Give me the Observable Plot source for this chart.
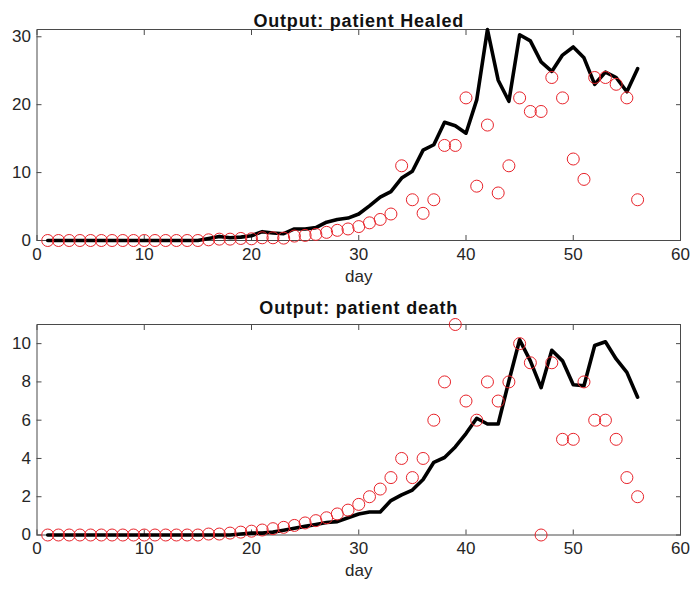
<!DOCTYPE html>
<html>
<head>
<meta charset="utf-8">
<script src="https://cdn.jsdelivr.net/npm/d3@7"></script>
<script src="https://cdn.jsdelivr.net/npm/@observablehq/plot@0.6"></script>
<style>
  body { margin: 0; background: #fff; }
  #chart { width: 700px; }
  #chart svg { display: block; overflow: visible; }
</style>
</head>
<body>
<div id="chart"></div>
<script>
const days = [1,2,3,4,5,6,7,8,9,10,11,12,13,14,15,16,17,18,19,20,21,22,23,24,25,26,27,28,
  29,30,31,32,33,34,35,36,37,38,39,40,41,42,43,44,45,46,47,48,49,50,51,52,53,54,55,56];

const healedObs = [0,0,0,0,0,0,0,0,0,0,0,0,0,0,0,0.1,0.2,0.2,0.3,0.25,0.4,0.4,0.35,0.65,0.75,0.9,1.2,1.5,
  1.7,2.05,2.6,3.1,3.9,11,6,4,6,14,14,21,8,17,7,11,21,19,19,24,21,12,9,24,24,23,21,6];
const healedFit = [0,0,0,0,0,0,0,0,0,0,0,0,0,0,0,0.3,0.6,0.4,0.5,0.7,1.3,1.1,1.0,1.7,1.7,1.9,2.7,3.1,
  3.3,3.9,5.1,6.4,7.2,9.2,10.2,13.3,14.1,17.4,16.9,15.8,20.7,31.07,23.6,20.5,30.3,29.4,26.3,24.9,27.3,28.5,26.9,23.0,24.8,24.0,21.9,25.3];

const deathObs = [0,0,0,0,0,0,0,0,0,0,0,0,0,0,0,0.05,0.05,0.1,0.15,0.2,0.26,0.33,0.4,0.5,0.63,0.75,0.9,1.1,
  1.3,1.6,2,2.4,3,4,3,4,6,8,11,7,6,8,7,8,10,9,0,9,5,5,8,6,6,5,3,2];
const deathFit = [0,0,0,0,0,0,0,0,0,0,0,0,0,0,0,0,0,0,0.05,0.1,0.1,0.15,0.25,0.35,0.45,0.55,0.65,0.7,
  0.9,1.1,1.2,1.2,1.8,2.1,2.35,2.9,3.8,4.05,4.6,5.3,6.1,5.8,5.8,8.05,10.2,9.1,7.7,9.65,9.1,7.85,7.8,9.9,10.1,9.2,8.5,7.2];

const xTicks = [0,10,20,30,40,50,60];
const yTicksHealed = [0,10,20,30];
const yTicksDeath = [0,2,4,6,8,10];
const titles = ["Output: patient Healed", "Output: patient death"];
const xLabel = "day";

const font = "'Liberation Sans', Arial, Helvetica, sans-serif";
const ink = "#262626";

function panel({obs, fit, yDomain, yTicks, title, height, marginTop, marginBottom, titleDy}) {
  const rows = days.map((d, i) => ({day: d, obs: obs[i], fit: fit[i]}));
  const svg = Plot.plot({
    width: 700,
    height,
    marginLeft: 36.5,
    marginRight: 20,
    marginTop,
    marginBottom,
    style: {fontFamily: font, background: "#fff", color: ink},
    x: {domain: [0, 60]},
    y: {domain: yDomain},
    marks: [
      Plot.frame({stroke: "#4a4a4a", strokeWidth: 1}),
      Plot.axisX({anchor: "bottom", ticks: xTicks, tickSize: -5, tickFormat: () => "", label: null, stroke: "#4a4a4a"}),
      Plot.axisX({anchor: "top", ticks: xTicks, tickSize: -5, tickFormat: () => "", label: null, stroke: "#4a4a4a"}),
      Plot.axisY({anchor: "left", ticks: yTicks, tickSize: -5, tickFormat: () => "", label: null, stroke: "#4a4a4a"}),
      Plot.axisY({anchor: "right", ticks: yTicks, tickSize: -5, tickFormat: () => "", label: null, stroke: "#4a4a4a"}),
      Plot.axisX({anchor: "bottom", ticks: xTicks, tickSize: 0, tickPadding: 7, fontSize: 17, label: null, fill: ink}),
      Plot.axisY({anchor: "left", ticks: yTicks, tickSize: 0, tickPadding: 6, fontSize: 17, label: null, fill: ink}),
      Plot.line(rows, {x: "day", y: "fit", stroke: "#000", strokeWidth: 3.6, strokeLinejoin: "round"}),
      Plot.dot(rows, {x: "day", y: "obs", r: 6, stroke: "#e8232a", strokeWidth: 1, fill: "none"}),
      Plot.text([title], {frameAnchor: "top", dy: titleDy, fontSize: 18, fontWeight: "bold", fill: "#111"}),
      Plot.text([xLabel], {frameAnchor: "bottom", dy: 41, fontSize: 17, fill: ink})
    ]
  });
  d3.select(svg).selectAll("text").filter(function() { return this.textContent === title; })
    .style("letter-spacing", "0.8px");
  return svg;
}

const chart = document.getElementById("chart");
chart.append(panel({
  obs: healedObs, fit: healedFit, yDomain: [0, d3.max(healedFit)], yTicks: yTicksHealed,
  title: titles[0], height: 294, marginTop: 29, marginBottom: 54, titleDy: -15
}));
chart.append(panel({
  obs: deathObs, fit: deathFit, yDomain: [0, 11], yTicks: yTicksDeath,
  title: titles[1], height: 300, marginTop: 30, marginBottom: 59.5, titleDy: -23
}));
</script>
</body>
</html>
